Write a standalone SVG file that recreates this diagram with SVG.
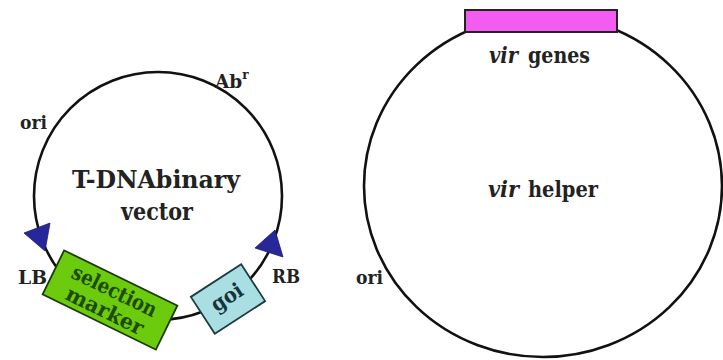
<svg xmlns="http://www.w3.org/2000/svg" width="723" height="360" viewBox="0 0 723 360">
<style>
.ring{fill:none;stroke:#111;stroke-width:2.6}
.arrow{fill:#27279a;stroke:#1a1a70;stroke-width:0.8}
text{font-family:'DejaVu Serif','Liberation Serif',serif;font-weight:bold;fill:#222}
.it{font-style:italic}
</style>
<rect width="723" height="360" fill="#fff"/>
<g id="binary-vector">
  <circle class="ring" cx="158" cy="196" r="124"/>
  <text x="72" y="188" font-size="24" textLength="168" lengthAdjust="spacingAndGlyphs">T-DNAbinary</text>
  <text x="121" y="220" font-size="24" textLength="72" lengthAdjust="spacingAndGlyphs">vector</text>
</g>
<g id="label-ori-left"><text x="20" y="129" font-size="18.5" textLength="27" lengthAdjust="spacingAndGlyphs">ori</text></g>
<g id="label-abr"><text x="215" y="88" font-size="18.5">Ab<tspan font-size="12" dy="-9">r</tspan></text></g>
<g id="LB">
  <polygon class="arrow" points="24,233 50,223 45,251"/>
  <text x="18" y="284" font-size="18.5" textLength="29" lengthAdjust="spacingAndGlyphs">LB</text>
</g>
<g id="RB">
  <polygon class="arrow" points="255,248 275,230 283,257"/>
  <text x="272" y="283" font-size="18.5" textLength="28" lengthAdjust="spacingAndGlyphs">RB</text>
</g>
<g id="selection-marker" transform="translate(110,300) rotate(26)">
  <rect x="-63" y="-24.5" width="126" height="49" fill="#6ccb0c" stroke="#1c3a06" stroke-width="1.8"/>
  <text x="-46" y="-3" font-size="21" textLength="92" lengthAdjust="spacingAndGlyphs" style="fill:#1d4a04">selection</text>
  <text x="-42" y="19" font-size="21" textLength="84" lengthAdjust="spacingAndGlyphs" style="fill:#1d4a04">marker</text>
</g>
<g id="goi" transform="translate(228,299) rotate(-33)">
  <rect x="-30" y="-22" width="60" height="44" fill="#a9dfe3" stroke="#1c3c40" stroke-width="1.8"/>
  <text x="-17" y="5" font-size="21" textLength="34" lengthAdjust="spacingAndGlyphs" style="fill:#173438">goi</text>
</g>
<g id="vir-helper">
  <ellipse class="ring" cx="543" cy="186" rx="179" ry="171"/>
  <text class="it" x="488" y="197" font-size="23" textLength="31" lengthAdjust="spacingAndGlyphs">vir</text>
  <text x="528" y="197" font-size="23" textLength="70" lengthAdjust="spacingAndGlyphs">helper</text>
</g>
<g id="vir-genes">
  <rect x="465" y="10" width="152" height="22" fill="#f25cf0" stroke="#222" stroke-width="2"/>
  <text class="it" x="489" y="63" font-size="23" textLength="29" lengthAdjust="spacingAndGlyphs">vir</text>
  <text x="528" y="63" font-size="23" textLength="62" lengthAdjust="spacingAndGlyphs">genes</text>
</g>
<g id="label-ori-right"><text x="356" y="284" font-size="18.5" textLength="27" lengthAdjust="spacingAndGlyphs">ori</text></g>
<g id="connectors"></g>
</svg>
